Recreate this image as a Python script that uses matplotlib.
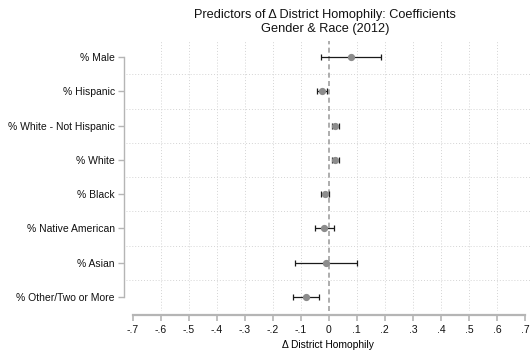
import matplotlib
matplotlib.use("Agg")
import matplotlib.pyplot as plt
import numpy as np

categories = ["% Male", "% Hispanic", "% White - Not Hispanic", "% White",
              "% Black", "% Native American", "% Asian", "% Other/Two or More"]
coef = [0.080, -0.024, 0.023, 0.022, -0.012, -0.018, -0.011, -0.081]
ci_low = [-0.028, -0.042, 0.013, 0.010, -0.029, -0.049, -0.119, -0.128]
ci_high = [0.186, -0.008, 0.035, 0.037, 0.000, 0.018, 0.100, -0.035]
xticks = [-0.7, -0.6, -0.5, -0.4, -0.3, -0.2, -0.1, 0, 0.1, 0.2, 0.3, 0.4, 0.5, 0.6, 0.7]
xticklabels = ["-.7", "-.6", "-.5", "-.4", "-.3", "-.2", "-.1", "0", ".1", ".2", ".3", ".4", ".5", ".6", ".7"]

plt.rcParams['font.family'] = ['Liberation Sans', 'DejaVu Sans']

W, H = 530, 352
fig = plt.figure(figsize=(W / 100, H / 100), dpi=100)
left, right, top, bottom = 126, 530, 41, 311
ax = fig.add_axes([left / W, 1 - bottom / H, (right - left) / W, (bottom - top) / H])

spine_col = "#b5b5b5"
for s in ["top", "right"]:
    ax.spines[s].set_visible(False)
ax.spines["left"].set_position(("outward", 1.5))
ax.spines["bottom"].set_position(("outward", 3))
ax.spines["left"].set_color(spine_col)
ax.spines["bottom"].set_color(spine_col)
ax.spines["left"].set_linewidth(1.0)
ax.spines["bottom"].set_linewidth(1.6)

ypos = np.arange(len(categories))
coef = np.array(coef); lo = np.array(ci_low); hi = np.array(ci_high)

# grid
grid_col = "#d4d4d4"
for x in xticks[1:-1]:
    if x == 0:
        continue
    ax.axvline(x, color=grid_col, lw=0.7, ls=(0, (1, 2)), zorder=0)
for y in ypos[:-1] + 0.5:
    ax.axhline(y, color=grid_col, lw=0.7, ls=(0, (1, 2)), zorder=0)

ax.axvline(0, color="#a0a0a0", lw=1.2, ls=(0, (3, 2)), zorder=1)

ax.errorbar(coef, ypos, xerr=[coef - lo, hi - coef], fmt="none", ecolor="#1a1a1a",
            elinewidth=0.9, capsize=2.3, capthick=0.9, zorder=2)
ax.plot(coef, ypos, "o", color="#8c8c8c", ms=4.2, zorder=3)

ax.set_xlim(-0.7232, 0.7178)
ax.set_ylim(len(categories) - 1 + 0.41, -0.47)
ax.set_yticks(ypos)
ax.set_yticklabels(categories)
ax.set_xticks(xticks)
ax.set_xticklabels(xticklabels)
ax.set_xlabel("Δ District Homophily", fontsize=7.4, labelpad=4)
ax.spines["left"].set_bounds(0, len(categories) - 1)
ax.spines["bottom"].set_bounds(-0.7, 0.7)

ax.tick_params(axis="y", color=spine_col, length=4, width=1.0, pad=2.5,
               labelcolor="#111111", labelsize=7.5)
ax.tick_params(axis="x", color=spine_col, length=4, width=1.2, pad=3,
               labelcolor="#111111", labelsize=7.5)

fig.text((left + right) / 2 / W - 0.005, 1 - 22 / H,
         "Predictors of Δ District Homophily: Coefficients\nGender & Race (2012)",
         ha="center", va="center", fontsize=9.2, linespacing=1.3, color="#111111")

fig.savefig("out.png", dpi=100, facecolor="white")
